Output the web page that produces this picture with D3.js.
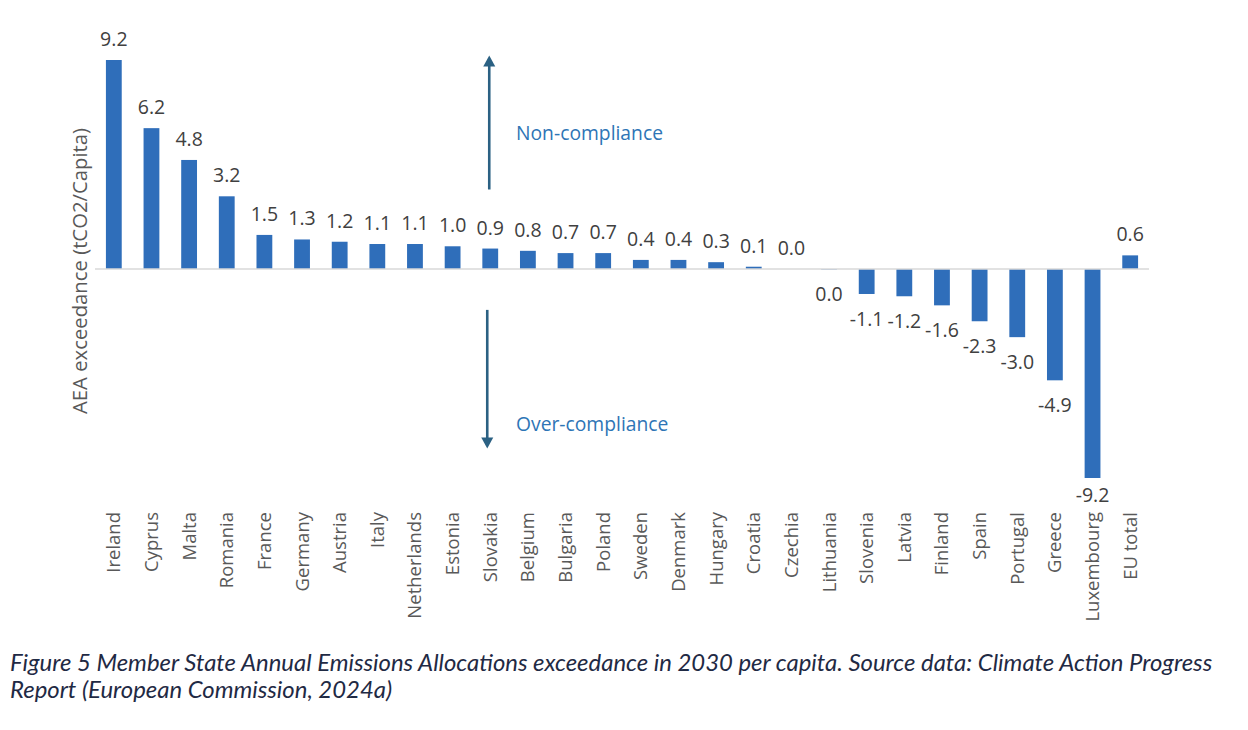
<!DOCTYPE html>
<html>
<head>
<meta charset="utf-8">
<script src="https://cdn.jsdelivr.net/npm/d3@7"></script>
<style>
  body { margin: 0; background: #ffffff; }
  svg { display: block; }
</style>
</head>
<body>
<div id="chart"></div>
<script>
// data
var countries = ["Ireland", "Cyprus", "Malta", "Romania", "France", "Germany", "Austria", "Italy",
    "Netherlands", "Estonia", "Slovakia", "Belgium", "Bulgaria", "Poland", "Sweden", "Denmark",
    "Hungary", "Croatia", "Czechia", "Lithuania", "Slovenia", "Latvia", "Finland", "Spain",
    "Portugal", "Greece", "Luxembourg", "EU total"];
var exceedance = [9.2, 6.2, 4.8, 3.2, 1.5, 1.3, 1.2, 1.1, 1.1, 1.0, 0.9, 0.8, 0.7, 0.7, 0.4, 0.4,
    0.3, 0.1, 0.0, -0.02, -1.1, -1.2, -1.6, -2.3, -3.0, -4.9, -9.2, 0.6];
var axisTitle = "AEA exceedance (tCO2/Capita)";
var captionLines = [
    "Figure 5 Member State Annual Emissions Allocations exceedance in 2030 per capita. Source data: Climate Action Progress",
    "Report (European Commission, 2024a)"
];

var width = 1248, height = 730;
var barColor = "#2f6eba";

var svg = d3.select("#chart")
    .append("svg")
    .attr("width", width)
    .attr("height", height);

var x = d3.scaleBand()
    .domain(countries)
    .range([95, 1149])
    .paddingInner(0.58)
    .paddingOuter(0.29);

var y = d3.scaleLinear()
    .domain([-9.2, 9.2])
    .range([478, 60]);

var data = countries.map(function (c, i) {
    return { name: c, value: exceedance[i] };
});

// bars
svg.selectAll(".bar")
    .data(data)
    .enter()
    .append("rect")
    .attr("class", "bar")
    .attr("x", function (d) { return x(d.name); })
    .attr("width", x.bandwidth())
    .attr("y", function (d) { return d.value >= 0 ? y(d.value) : y(0); })
    .attr("height", function (d) { return Math.abs(y(d.value) - y(0)); })
    .attr("fill", barColor);

// zero line
svg.append("line")
    .attr("x1", x.range()[0])
    .attr("x2", x.range()[1])
    .attr("y1", y(0))
    .attr("y2", y(0))
    .attr("stroke", "#d9d9d9")
    .attr("stroke-width", 1.3);

// value labels (negative ones kept inside the plot area, like Excel does)
var labelFloor = y.range()[0] + 24;
svg.selectAll(".val")
    .data(data)
    .enter()
    .append("text")
    .attr("class", "val")
    .attr("x", function (d) { return x(d.name) + x.bandwidth() / 2; })
    .attr("y", function (d) {
        return d.value >= 0 ? y(d.value) - 14 : Math.min(y(d.value) + 32, labelFloor);
    })
    .attr("text-anchor", "middle")
    .attr("font-family", "Open Sans")
    .attr("font-size", 19.5)
    .attr("fill", "#404040")
    .text(function (d) {
        return Math.abs(d.value) < 0.05 ? "0.0" : d.value.toFixed(1);
    });

// category labels
svg.selectAll(".cat")
    .data(countries)
    .enter()
    .append("text")
    .attr("class", "cat")
    .attr("transform", function (d) {
        return "translate(" + (x(d) + x.bandwidth() / 2) + "," + 512 + ") rotate(-90)";
    })
    .attr("dy", "0.35em")
    .attr("text-anchor", "end")
    .attr("font-family", "Open Sans")
    .attr("font-size", 18.5)
    .attr("fill", "#595959")
    .text(function (d) { return d; });

// axis title
svg.append("text")
    .attr("transform", "translate(80,271) rotate(-90)")
    .attr("dy", "0.35em")
    .attr("text-anchor", "middle")
    .attr("font-family", "Open Sans")
    .attr("font-size", 20.3)
    .attr("fill", "#595959")
    .text(axisTitle);

// compliance arrows
var arrowColor = "#2b6183";
var ax = x("Slovakia") + x.bandwidth() / 2 - 1;

svg.append("line")
    .attr("x1", ax).attr("x2", ax)
    .attr("y1", y(3.5)).attr("y2", y(9.0))
    .attr("stroke", arrowColor).attr("stroke-width", 2.6);
svg.append("path")
    .attr("d", "M" + (ax - 6) + "," + (y(9.4) + 11) + "L" + ax + "," + y(9.4) + "L" + (ax + 6) + "," + (y(9.4) + 11) + "Z")
    .attr("fill", arrowColor);

svg.append("line")
    .attr("x1", ax - 2).attr("x2", ax - 2)
    .attr("y1", y(-1.8)).attr("y2", y(-7.6))
    .attr("stroke", arrowColor).attr("stroke-width", 2.6);
svg.append("path")
    .attr("d", "M" + (ax - 8) + "," + (y(-7.9) - 11) + "L" + (ax - 2) + "," + y(-7.9) + "L" + (ax + 4) + "," + (y(-7.9) - 11) + "Z")
    .attr("fill", arrowColor);

svg.append("text")
    .attr("x", 516).attr("y", 133)
    .attr("dy", "0.35em")
    .attr("font-family", "Open Sans")
    .attr("font-size", 19.3)
    .attr("fill", "#2e75b6")
    .text("Non-compliance");

svg.append("text")
    .attr("x", 516).attr("y", 424)
    .attr("dy", "0.35em")
    .attr("font-family", "Open Sans")
    .attr("font-size", 19.3)
    .attr("fill", "#2e75b6")
    .text("Over-compliance");

// caption
var cap = svg.selectAll(".cap")
    .data(captionLines)
    .enter()
    .append("text")
    .attr("class", "cap")
    .attr("x", 10)
    .attr("y", function (d, i) { return 671 + i * 27; })
    .attr("font-family", "Lato")
    .attr("font-style", "italic")
    .attr("font-size", 21)
    .attr("fill", "#1f2a44")
    .text(function (d) { return d; });

// shrink caption font so the first line spans the same width as the original
var firstLen = cap.node().getComputedTextLength();
var fs = 21 * 1203 / firstLen;
cap.attr("font-size", fs);
</script>
</body>
</html>
